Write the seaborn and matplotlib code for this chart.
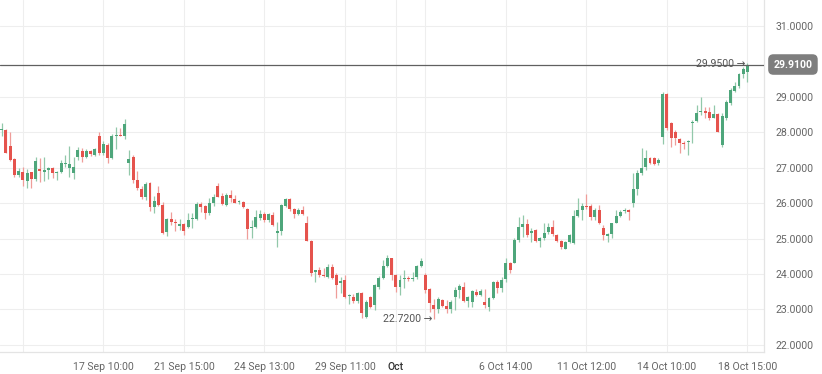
import numpy as np
import pandas as pd
import matplotlib
matplotlib.use("Agg")
import matplotlib.pyplot as plt
import matplotlib.transforms as mtransforms
import seaborn as sns

# ---------------- data ----------------
opens = [28.06, 28.07, 27.60, 27.24, 26.80, 26.89, 26.63, 26.87, 26.68, 26.96,
         26.89, 26.94, 27.00, 26.86, 26.87, 27.10, 26.98, 26.85, 27.29, 27.47,
         27.31, 27.47, 27.36, 27.88, 27.41, 27.64, 27.27, 27.90, 27.93, 27.90,
         27.14, 27.29, 26.65, 26.39, 26.18, 26.56, 25.90, 26.28, 25.95, 25.18,
         25.55, 25.48, 25.36, 25.40, 25.34, 25.55, 25.55, 25.97, 25.92, 25.71,
         26.00, 26.47, 26.20, 25.95, 26.23, 26.12, 26.02, 26.04, 25.83, 25.29,
         25.32, 25.57, 25.69, 25.51, 25.67, 25.17, 25.20, 25.92, 26.11, 25.84,
         25.70, 25.81, 25.43, 24.94, 24.06, 24.10, 23.97, 23.91, 24.21, 23.97,
         23.74, 23.83, 23.37, 23.36, 23.24, 23.47, 22.80, 23.34, 23.13, 23.64,
         23.88, 24.23, 24.44, 23.97, 23.62, 23.85, 23.89, 23.86, 23.91, 24.24,
         23.97, 23.57, 23.13, 23.00, 23.27, 23.10, 23.00, 23.36, 23.55, 23.62,
         23.25, 23.22, 23.50, 23.41, 23.22, 23.08, 23.31, 23.78, 23.60, 23.85,
         24.30, 24.32, 24.96, 25.34, 25.40, 25.15, 25.24, 24.94, 25.01, 25.18,
         25.34, 25.10, 24.93, 24.71, 24.89, 24.87, 25.64, 25.81, 25.92, 25.92,
         25.60, 25.81, 25.29, 25.07, 25.13, 25.45, 25.64, 25.77, 25.81, 25.99,
         26.39, 26.84, 27.02, 27.28, 27.27, 27.12, 27.87, 29.07, 28.25, 28.02,
         27.81, 27.69, 27.72, 28.25, 28.32, 28.56, 28.60, 28.56, 28.41, 28.51,
         27.64, 28.40, 28.82, 29.16, 29.29, 29.64, 29.69]
highs = [28.27, 28.10, 28.02, 27.26, 27.00, 27.01, 26.96, 26.89, 27.31, 27.28,
         27.31, 27.03, 27.03, 26.91, 27.22, 27.36, 27.61, 27.30, 27.58, 27.55,
         27.53, 27.50, 27.55, 28.00, 27.74, 27.69, 27.95, 28.14, 28.11, 28.37,
         27.50, 27.36, 26.91, 26.47, 26.59, 26.59, 26.20, 26.48, 26.04, 25.58,
         25.76, 25.54, 25.55, 25.43, 25.73, 25.71, 26.02, 26.02, 25.95, 26.14,
         26.25, 26.58, 26.28, 26.28, 26.37, 26.23, 26.09, 26.06, 25.85, 25.53,
         25.81, 25.81, 25.76, 25.73, 25.76, 25.48, 25.97, 26.14, 26.14, 25.85,
         25.85, 25.93, 25.64, 24.96, 24.11, 24.19, 24.16, 24.28, 24.28, 24.02,
         23.91, 23.97, 23.44, 23.45, 23.50, 23.50, 23.27, 23.38, 23.71, 23.93,
         24.40, 24.55, 24.46, 23.99, 23.97, 24.10, 23.94, 24.07, 24.26, 24.46,
         24.04, 23.60, 23.29, 23.34, 23.29, 23.27, 23.27, 23.62, 23.71, 23.78,
         23.38, 23.55, 23.57, 23.57, 23.57, 23.34, 23.80, 23.83, 23.91, 24.44,
         24.35, 25.01, 25.60, 25.67, 25.54, 25.29, 25.26, 25.04, 25.43, 25.43,
         25.53, 25.13, 24.96, 24.94, 25.13, 25.81, 26.14, 26.01, 26.25, 25.98,
         25.85, 25.95, 25.38, 25.15, 25.45, 25.81, 25.81, 25.85, 25.83, 26.84,
         26.94, 27.55, 27.50, 27.31, 27.31, 27.27, 29.13, 29.10, 28.30, 28.07,
         27.83, 27.75, 27.78, 28.35, 28.77, 28.98, 28.72, 28.70, 28.77, 28.54,
         28.55, 28.90, 29.24, 29.43, 29.66, 29.85, 29.95]
lows = [27.90, 27.40, 27.20, 26.75, 26.75, 26.47, 26.42, 26.42, 26.61, 26.59,
        26.61, 26.67, 26.70, 26.64, 26.84, 27.03, 26.75, 26.67, 27.22, 27.17,
        27.28, 27.34, 27.33, 27.36, 27.36, 27.13, 27.25, 27.52, 27.88, 27.80,
        26.80, 26.56, 26.37, 26.11, 26.09, 25.79, 25.71, 25.93, 25.13, 25.07,
        25.38, 25.22, 25.24, 25.10, 25.29, 25.29, 25.53, 25.76, 25.54, 25.67,
        25.92, 26.16, 25.95, 25.93, 26.04, 25.99, 25.98, 25.87, 25.00, 25.03,
        25.29, 25.53, 25.48, 25.48, 25.36, 24.75, 25.10, 25.88, 25.79, 25.57,
        25.67, 25.67, 24.93, 23.93, 23.77, 23.91, 23.91, 23.88, 23.85, 23.33,
        23.47, 23.31, 23.16, 23.19, 23.17, 22.77, 22.77, 23.03, 22.99, 23.57,
        23.85, 24.19, 23.83, 23.50, 23.41, 23.60, 23.79, 23.81, 23.85, 24.21,
        23.46, 22.94, 22.72, 22.91, 23.06, 22.91, 22.89, 22.99, 23.31, 23.22,
        23.08, 23.06, 23.38, 23.38, 23.03, 22.96, 23.29, 23.46, 23.50, 23.78,
        24.02, 24.30, 24.91, 25.05, 25.05, 24.91, 24.91, 24.77, 24.96, 25.13,
        25.07, 24.91, 24.70, 24.70, 24.87, 24.85, 25.60, 25.52, 25.83, 25.51,
        25.53, 25.41, 24.96, 24.91, 25.01, 25.43, 25.60, 25.73, 25.52, 25.90,
        26.23, 26.80, 26.94, 27.10, 27.07, 27.07, 27.66, 28.07, 27.59, 27.64,
        27.41, 27.52, 27.36, 27.69, 28.30, 28.49, 28.41, 28.35, 28.39, 28.00,
        27.58, 28.35, 28.77, 29.13, 29.24, 29.54, 29.41]
closes = [28.10, 27.41, 27.22, 26.80, 26.91, 26.65, 26.84, 26.67, 27.20, 26.91,
          26.94, 27.00, 26.86, 26.89, 27.12, 27.13, 27.10, 27.02, 27.50, 27.31,
          27.47, 27.38, 27.52, 27.41, 27.66, 27.27, 27.88, 27.93, 27.90, 28.23,
          27.24, 26.65, 26.42, 26.18, 26.54, 25.90, 26.06, 25.95, 25.15, 25.55,
          25.46, 25.43, 25.41, 25.20, 25.52, 25.58, 25.98, 25.90, 25.71, 26.01,
          26.18, 26.18, 25.98, 26.23, 26.14, 26.01, 26.05, 25.90, 25.26, 25.32,
          25.60, 25.69, 25.53, 25.69, 25.38, 25.20, 25.95, 26.11, 25.84, 25.70,
          25.81, 25.70, 24.94, 24.04, 24.10, 23.97, 23.94, 24.21, 23.88, 23.69,
          23.81, 23.36, 23.38, 23.24, 23.47, 22.89, 23.22, 23.08, 23.69, 23.88,
          24.23, 24.44, 23.97, 23.62, 23.83, 23.88, 23.86, 23.88, 24.23, 24.38,
          23.55, 23.17, 23.00, 23.29, 23.10, 23.00, 23.22, 23.55, 23.66, 23.25,
          23.36, 23.53, 23.41, 23.53, 23.13, 23.31, 23.78, 23.60, 23.83, 24.30,
          24.12, 24.96, 25.34, 25.40, 25.10, 25.20, 24.94, 25.01, 25.17, 25.34,
          25.13, 24.94, 24.75, 24.91, 25.10, 25.64, 25.81, 25.92, 25.89, 25.60,
          25.81, 25.45, 25.10, 25.12, 25.43, 25.64, 25.76, 25.81, 25.76, 26.39,
          26.84, 26.98, 27.27, 27.12, 27.10, 27.22, 29.07, 28.11, 27.83, 27.83,
          27.69, 27.66, 27.75, 28.30, 28.54, 28.60, 28.54, 28.41, 28.51, 28.02,
          28.45, 28.85, 29.19, 29.29, 29.64, 29.79, 29.91]

tick_pos = [5, 24, 43, 62, 81, 93, 100, 119, 138, 157, 176]
tick_labels = ["", "17 Sep 10:00", "21 Sep 15:00", "24 Sep 13:00", "29 Sep 11:00",
               "Oct", "", "6 Oct 14:00", "11 Oct 12:00", "14 Oct 10:00", "18 Oct 15:00"]
y_ticks = [22, 23, 24, 25, 26, 27, 28, 29, 31]

last_price = 29.91
max_price = 29.95
max_idx = 175.6
min_price = 22.72
min_idx = 101.6

df = pd.DataFrame({"open": opens, "high": highs, "low": lows, "close": closes})
df["idx"] = np.arange(len(df))
df["up"] = df["close"] >= df["open"]

# ---------------- style ----------------
sns.set_theme(style="white")
plt.rcParams["font.family"] = ["Roboto", "DejaVu Sans"]

GREEN = "#4ea67b"
RED = "#e5534d"
GREEN_W = "#92c8aa"
RED_W = "#ef9d99"
GRID = "#eeeeee"
TXT = "#666666"

fig = plt.figure(figsize=(8.22, 3.74), dpi=100)
ax = fig.add_axes([0.0, 22 / 374, 764 / 822, 352 / 374])

ax.set_xlim(-0.4, 179.9)
ax.set_ylim(21.80, 31.73)

# grid
ax.set_xticks(tick_pos)
ax.set_xticklabels(tick_labels)
ax.set_yticks(y_ticks)
ax.set_yticklabels([f"{v:.4f}" for v in y_ticks])
ax.grid(True, color=GRID, linewidth=0.8)
ax.set_axisbelow(True)

# candles
wick_colors = np.where(df["up"], GREEN_W, RED_W)
body_colors = np.where(df["up"], GREEN, RED)
ax.vlines(df["idx"], df["low"], df["high"], colors=wick_colors, linewidth=0.9, zorder=2)
body_bottom = np.minimum(df["open"], df["close"])
body_h = np.maximum(np.abs(df["close"] - df["open"]), 0.025)
ax.bar(df["idx"], body_h, bottom=body_bottom, width=0.7, color=body_colors,
       linewidth=0, zorder=3)

# last price line
ax.axhline(last_price, color="#606060", linewidth=0.9, zorder=4)
trans = mtransforms.blended_transform_factory(ax.transAxes, ax.transData)
ax.annotate(f"{last_price:.4f}", xy=(1.0, last_price), xycoords=trans,
            xytext=(6.8, 0), textcoords="offset points", ha="left", va="center",
            color="white", fontsize=7.6, fontweight="bold", annotation_clip=False,
            bbox=dict(boxstyle="round,pad=0.5", fc="#7e7e7e", ec="none"))

# max / min labels
ax.text(max_idx, max_price - 0.03, f"{max_price:.4f} \u2192", ha="right", va="center",
        fontsize=7.6, color="#555555", zorder=5)
ax.text(min_idx, min_price, f"{min_price:.4f} \u2192", ha="right", va="center",
        fontsize=7.6, color="#555555", zorder=5)

# axes styling
ax.yaxis.tick_right()
ax.tick_params(axis="y", length=0, pad=8, labelsize=7.6, labelcolor=TXT)
ax.tick_params(axis="x", length=4, width=0.8, color="#e0e0e0", pad=3,
               labelsize=7.6, labelcolor=TXT)
for lbl in ax.get_xticklabels():
    if lbl.get_text() == "Oct":
        lbl.set_color("#333333")
        lbl.set_fontweight("medium")

for side in ["left", "top"]:
    ax.spines[side].set_visible(False)
for side in ["right", "bottom"]:
    ax.spines[side].set_color("#e4e4e4")
    ax.spines[side].set_linewidth(0.9)

fig.savefig("out.png", dpi=100, facecolor="white")
